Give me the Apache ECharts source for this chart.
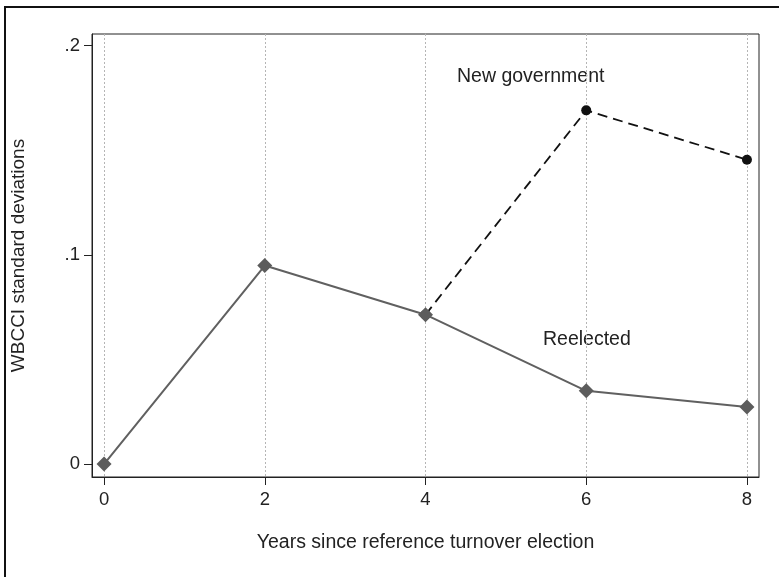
<!DOCTYPE html>
<html>
<head>
<meta charset="utf-8">
<script src="https://cdn.jsdelivr.net/npm/echarts@6/dist/echarts.min.js"></script>
<style>
  html, body { margin: 0; padding: 0; background: #fff; }
  #chart { width: 779px; height: 577px; }
</style>
</head>
<body>
<div id="chart"></div>
<script>
// Years since the reference turnover election
const years = [0, 2, 4, 6, 8];
// WBCCI change, in standard deviations
const reelected = [0, 0.0949, 0.0714, 0.0350, 0.0273];
const newGovernment = [null, null, 0.0714, 0.1691, 0.1455];
const xTicks = [0, 2, 4, 6, 8];
const yTicks = [0, 0.1, 0.2];

const FONT = '"Liberation Sans", Arial, sans-serif';
const TEXT = '#222';

const pair = (xs, ys) => xs.map((x, i) => [x, ys[i]]);

const chart = echarts.init(document.getElementById('chart'), null, { renderer: 'canvas' });

chart.setOption({
  animation: false,
  backgroundColor: '#fff',
  textStyle: { fontFamily: FONT },
  grid: {
    left: 92, right: 20, top: 34, bottom: 100,
    show: true, borderColor: '#222', borderWidth: 1, backgroundColor: 'transparent'
  },
  xAxis: {
    type: 'value',
    min: -0.15, max: 8.15,
    name: 'Years since reference turnover election',
    nameLocation: 'middle',
    nameGap: 56,
    nameTextStyle: { fontSize: 19.5, color: TEXT, fontFamily: FONT },
    axisLine: { show: true, onZero: false, lineStyle: { color: '#222', width: 1 } },
    axisTick: { show: true, length: 8, customValues: xTicks, lineStyle: { color: '#222' } },
    axisLabel: { customValues: xTicks, margin: 13, fontSize: 18.5, color: TEXT, fontFamily: FONT },
    splitLine: { show: true, lineStyle: { color: '#b5b5b5', width: 1, type: [2, 2] } }
  },
  yAxis: {
    type: 'value',
    min: -0.0062, max: 0.2056,
    name: 'WBCCI standard deviations',
    nameLocation: 'middle',
    nameGap: 64,
    nameTextStyle: { fontSize: 19, color: TEXT, fontFamily: FONT },
    axisLine: { show: true, onZero: false, lineStyle: { color: '#222', width: 1 } },
    axisTick: { show: true, length: 8, customValues: yTicks, lineStyle: { color: '#222' } },
    axisLabel: {
      customValues: yTicks, margin: 12, fontSize: 18.5, color: TEXT, fontFamily: FONT,
      formatter: v => (v === 0 ? '0' : String(+v.toFixed(3)).replace(/^0/, ''))
    },
    splitLine: { show: false }
  },
  series: [
    {
      name: 'New government',
      type: 'line',
      data: pair(years, newGovernment),
      connectNulls: false,
      symbol: 'circle',
      symbolSize: 10,
      itemStyle: { color: '#111' },
      lineStyle: { color: '#111', width: 1.8, type: [10, 6] },
      z: 2
    },
    {
      name: 'Reelected',
      type: 'line',
      data: pair(years, reelected),
      symbol: 'diamond',
      symbolSize: 15,
      itemStyle: { color: '#5c5c5c' },
      lineStyle: { color: '#606060', width: 2 },
      z: 3
    }
  ],
  graphic: [
    {
      type: 'rect',
      shape: { x: 5, y: 7, width: 800, height: 620 },
      style: { fill: 'none', stroke: '#111', lineWidth: 2 },
      silent: true, z: 10
    },
    {
      type: 'text', left: 457, top: 67,
      style: { text: 'New government', font: '19.5px ' + FONT, fill: TEXT }
    },
    {
      type: 'text', left: 543, top: 330,
      style: { text: 'Reelected', font: '19.5px ' + FONT, fill: TEXT }
    }
  ]
});
</script>
</body>
</html>
